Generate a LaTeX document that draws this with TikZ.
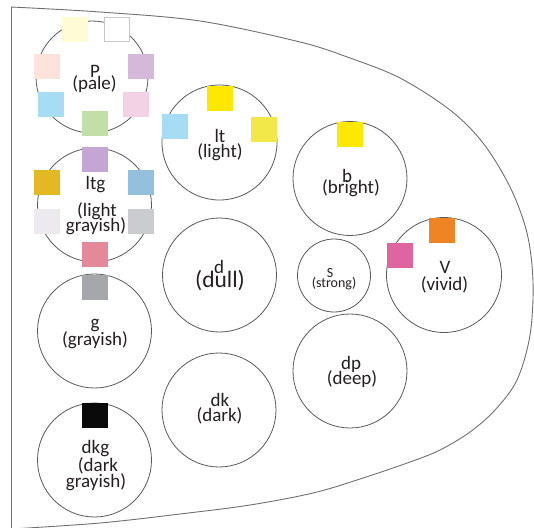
\documentclass[tikz,border=0pt]{standalone}
\usepackage{fontspec}
\setmainfont{Carlito}
\definecolor{txt}{HTML}{231F20}
\definecolor{ring}{HTML}{5A5A5A}
\definecolor{outline}{HTML}{707070}
\definecolor{cLY}{HTML}{FFFBD5}
\definecolor{cPK}{HTML}{FDE3DC}
\definecolor{cLV}{HTML}{D6B8DA}
\definecolor{cLB}{HTML}{A6DCF4}
\definecolor{cLP}{HTML}{F3D2E5}
\definecolor{cLG}{HTML}{C2DFA9}
\definecolor{cLV2}{HTML}{C3A6D4}
\definecolor{cMU}{HTML}{E2B922}
\definecolor{cSB}{HTML}{94C0DD}
\definecolor{cGW}{HTML}{ECEAEE}
\definecolor{cGR}{HTML}{CBCCCF}
\definecolor{cRO}{HTML}{E4899A}
\definecolor{cGY}{HTML}{A6A7AA}
\definecolor{cYE}{HTML}{FFE800}
\definecolor{cYL}{HTML}{F2E84A}
\definecolor{cOR}{HTML}{EE8424}
\definecolor{cPV}{HTML}{DF65A1}
\definecolor{cBK}{HTML}{0A0A0A}
\tikzset{
  tone/.style={circle, draw=ring, line width=0.8pt, inner sep=0pt, minimum size=#1},
  chip/.style={rectangle, fill=#1, inner sep=0pt, minimum width=26pt, minimum height=25pt},
  lab/.style={anchor=base, inner sep=0pt, text=txt, font=\fontsize{19}{19}\selectfont},
  labbig/.style={anchor=base, inner sep=0pt, text=txt, font=\fontsize{23.5}{23.5}\selectfont},
  labsmall/.style={anchor=base, inner sep=0pt, text=txt, font=\fontsize{14}{14}\selectfont}
}
\begin{document}
\begin{tikzpicture}[x=1pt,y=-1pt]
\useasboundingbox (0,0) rectangle (534,527);
\fill[white] (0,0) rectangle (534,527);
% outer shape
\draw[outline, line width=0.9pt] (11,529) -- (11,7);
\draw[outline, line width=0.9pt] plot[smooth, tension=0.55] coordinates {
  (11,7) (100,12) (200,21) (300,42) (350,58) (400,78) (450,110) (483,143)
  (510,187) (527,233) (533,282) (530,335) (517,380) (495,410) (470,432)
  (440,450) (410,462) (360,479) (313,493) (250,505) (180,514) (100,523) (11,529)};
% circles
\node[tone=112pt] (P)   at (92,77)    {};
\node[tone=114pt] (ltg) at (94.5,205) {};
\node[tone=114pt] (g)   at (94.5,331) {};
\node[tone=114pt] (dkg) at (94.5,460) {};
\node[tone=115pt] (lt)  at (219.5,142.5) {};
\node[tone=114pt] (b)   at (350,178.5) {};
\node[tone=114pt] (d)   at (219.5,275) {};
\node[tone=73pt]  (S)   at (334,275.5) {};
\node[tone=115pt] (V)   at (444,275)  {};
\node[tone=114pt] (dp)  at (350,371)  {};
\node[tone=114pt] (dk)  at (219,410)  {};
% chips P
\node[chip=cLY] (p1) at (74.5,29.5) {};
\node[chip=white, draw=black!22, line width=0.6pt, minimum width=25pt, minimum height=24pt] (p2) at (117,29.5) {};
\node[chip=cPK] (p3) at (47,66) {};
\node[chip=cLV] (p4) at (141,66) {};
\node[chip=cLB] (p5) at (51,104) {};
\node[chip=cLP] (p6) at (136,104) {};
\node[chip=cLG] (p7) at (95,123) {};
% chips ltg
\node[chip=cLV2] (q1) at (95,159) {};
\node[chip=cMU] (q2) at (47,182) {};
\node[chip=cSB] (q3) at (141,182) {};
\node[chip=cGW] (q4) at (47,221) {};
\node[chip=cGR] (q5) at (141,221) {};
\node[chip=cRO] (q6) at (95,254) {};
% chips g, dkg
\node[chip=cGY] (g1) at (95,287) {};
\node[chip=cBK] (k1) at (95,415) {};
% chips lt
\node[chip=cYE] (l1) at (219.5,98.5) {};
\node[chip=cLB] (l2) at (175,126) {};
\node[chip=cYL] (l3) at (264,129) {};
% chip b
\node[chip=cYE] (b1) at (349.5,134) {};
% chips V
\node[chip=cOR] (v1) at (441.5,230.5) {};
\node[chip=cPV] (v2) at (399.5,255.5) {};
% labels
\node[lab] (tP1) at (95,77) {P};
\node[lab] (tP2) at (94.5,89) {(pale)};
\node[lab] (tq1) at (95.5,189) {ltg};
\node[lab] (tq2) at (97,216) {(light};
\node[lab] (tq3) at (96,231) {grayish)};
\node[lab] (tg1) at (95,328) {g};
\node[lab] (tg2) at (95,345) {(grayish)};
\node[lab] (tk1) at (95.5,453) {dkg};
\node[lab] (tk2) at (98,471) {(dark};
\node[lab] (tk3) at (96,487) {grayish)};
\node[lab] (tl1) at (220,142.5) {lt};
\node[lab] (tl2) at (220,157) {(light)};
\node[lab] (tb1) at (347,182) {b};
\node[lab] (tb2) at (351,193.5) {(bright)};
\node[lab] (td1) at (219,273) {d};
\node[labbig] (td2) at (220,287) {(dull)};
\node[labsmall] (ts1) at (330,277) {S};
\node[labsmall] (ts2) at (334,287) {(strong)};
\node[lab] (tv1) at (445,273) {V};
\node[lab] (tv2) at (444.5,290) {(vivid)};
\node[lab] (tdp1) at (351,369) {dp};
\node[lab] (tdp2) at (352,384) {(deep)};
\node[lab] (tdk1) at (220,406.5) {dk};
\node[lab] (tdk2) at (219.5,421.5) {(dark)};
\end{tikzpicture}
\end{document}
